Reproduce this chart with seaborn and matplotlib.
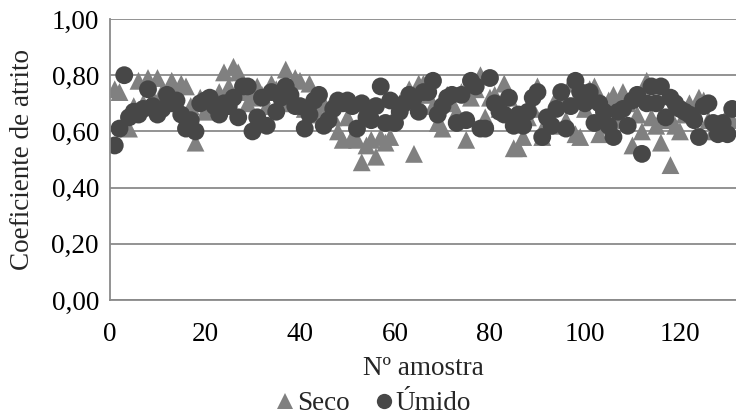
import matplotlib
matplotlib.use("Agg")
import matplotlib.pyplot as plt
from matplotlib import font_manager
from matplotlib.ticker import FuncFormatter
import numpy as np
import pandas as pd
import seaborn as sns

# Friction coefficient per sample, dry and wet condition
seco = [0.75, 0.74, 0.62, 0.61, 0.69, 0.78, 0.70, 0.79, 0.72, 0.79,
        0.74, 0.71, 0.78, 0.74, 0.77, 0.76, 0.69, 0.56, 0.72, 0.67,
        0.70, 0.68, 0.74, 0.81, 0.76, 0.83, 0.81, 0.74, 0.70, 0.72,
        0.76, 0.73, 0.69, 0.77, 0.75, 0.70, 0.82, 0.72, 0.79, 0.78,
        0.68, 0.77, 0.70, 0.66, 0.70, 0.68, 0.65, 0.60, 0.57, 0.65,
        0.58, 0.57, 0.49, 0.55, 0.57, 0.51, 0.58, 0.56, 0.58, 0.66,
        0.70, 0.72, 0.75, 0.52, 0.77, 0.77, 0.73, 0.69, 0.63, 0.61,
        0.73, 0.70, 0.67, 0.74, 0.57, 0.72, 0.75, 0.80, 0.65, 0.72,
        0.73, 0.68, 0.77, 0.72, 0.54, 0.54, 0.58, 0.65, 0.68, 0.76,
        0.58, 0.64, 0.62, 0.72, 0.70, 0.64, 0.77, 0.59, 0.58, 0.68,
        0.75, 0.76, 0.59, 0.62, 0.71, 0.73, 0.64, 0.74, 0.70, 0.55,
        0.66, 0.60, 0.78, 0.65, 0.62, 0.56, 0.64, 0.48, 0.62, 0.60,
        0.66, 0.70, 0.67, 0.72, 0.71, 0.64, 0.60, 0.62, 0.62, 0.66,
        0.64]
umido = [0.55, 0.61, 0.80, 0.65, 0.67, 0.66, 0.68, 0.75, 0.69, 0.66,
         0.68, 0.73, 0.70, 0.71, 0.66, 0.61, 0.64, 0.60, 0.70, 0.71,
         0.72, 0.69, 0.66, 0.70, 0.69, 0.72, 0.65, 0.76, 0.76, 0.60,
         0.65, 0.72, 0.62, 0.74, 0.67, 0.72, 0.76, 0.73, 0.69, 0.69,
         0.61, 0.66, 0.71, 0.73, 0.62, 0.64, 0.68, 0.71, 0.70, 0.71,
         0.69, 0.61, 0.70, 0.65, 0.64, 0.69, 0.76, 0.63, 0.71, 0.63,
         0.67, 0.70, 0.73, 0.72, 0.67, 0.74, 0.74, 0.78, 0.66, 0.69,
         0.72, 0.73, 0.63, 0.73, 0.64, 0.78, 0.76, 0.61, 0.61, 0.79,
         0.70, 0.67, 0.66, 0.72, 0.62, 0.66, 0.62, 0.67, 0.72, 0.74,
         0.58, 0.65, 0.62, 0.68, 0.74, 0.61, 0.69, 0.78, 0.74, 0.70,
         0.74, 0.63, 0.70, 0.67, 0.62, 0.58, 0.67, 0.68, 0.62, 0.71,
         0.73, 0.52, 0.70, 0.76, 0.70, 0.76, 0.65, 0.72, 0.70, 0.68,
         0.67, 0.66, 0.64, 0.58, 0.69, 0.70, 0.63, 0.59, 0.63, 0.59,
         0.68]
series_names = ["Seco", "Úmido"]
x_ticks = [0, 20, 40, 60, 80, 100, 120]
y_ticks = [0.0, 0.2, 0.4, 0.6, 0.8, 1.0]

df = pd.concat([
    pd.DataFrame({"amostra": np.arange(1, len(seco) + 1), "coef": seco,
                  "cond": series_names[0]}),
    pd.DataFrame({"amostra": np.arange(1, len(umido) + 1), "coef": umido,
                  "cond": series_names[1]}),
], ignore_index=True)

sns.set_theme(style="white")
# Times-like serif text throughout
serif_path = font_manager.findfont(
    font_manager.FontProperties(family="Liberation Serif"), fallback_to_default=False)
serif = font_manager.FontProperties(fname=serif_path).get_name()
plt.rcParams["font.family"] = "serif"
plt.rcParams["font.serif"] = [serif, "DejaVu Serif"]

grid_col = "#8a8a8a"
fs = 19.5
fig = plt.figure(figsize=(7.36, 4.16), dpi=100)
ax = fig.add_axes([110 / 736, 116 / 416, 1 - 110 / 736, 281 / 416])

sns.scatterplot(data=df, x="amostra", y="coef", hue="cond", style="cond",
                palette={"Seco": "#808080", "Úmido": "#474747"},
                markers={"Seco": "^", "Úmido": "o"},
                s=165, linewidth=0, alpha=1, ax=ax, legend=True)

ax.set_xlim(0, 131.8)
ax.set_ylim(0, 1.0)
ax.set_xticks(x_ticks)
ax.set_yticks(y_ticks)
ax.yaxis.set_major_formatter(FuncFormatter(lambda v, p: f"{v:.2f}".replace(".", ",")))
ax.set_axisbelow(True)
ax.yaxis.grid(True, color=grid_col, linewidth=1.3)
ax.xaxis.grid(False)

for side in ["top", "right"]:
    ax.spines[side].set_visible(False)
for side in ["left", "bottom"]:
    ax.spines[side].set_visible(True)
    ax.spines[side].set_color(grid_col)
    ax.spines[side].set_linewidth(1.3)

ax.tick_params(axis="both", which="major", labelsize=fs, labelcolor="black",
               color=grid_col, length=5, width=1.3, direction="out", pad=3)
ax.tick_params(axis="x", pad=11)

ax.set_xlabel("Nº amostra", fontsize=fs, labelpad=6)
ax.set_ylabel("Coeficiente de atrito", fontsize=fs, labelpad=12)

handles, labels = ax.get_legend_handles_labels()
ax.get_legend().remove()
for h in handles:
    h.set_markersize(11)
fig.legend(handles, labels, loc="center", bbox_to_anchor=(0.5, 0.03), ncol=2,
           frameon=False, fontsize=fs, handletextpad=-0.3, columnspacing=0.5,
           borderpad=0, handlelength=1.5)

fig.savefig("out.png", dpi=100)
